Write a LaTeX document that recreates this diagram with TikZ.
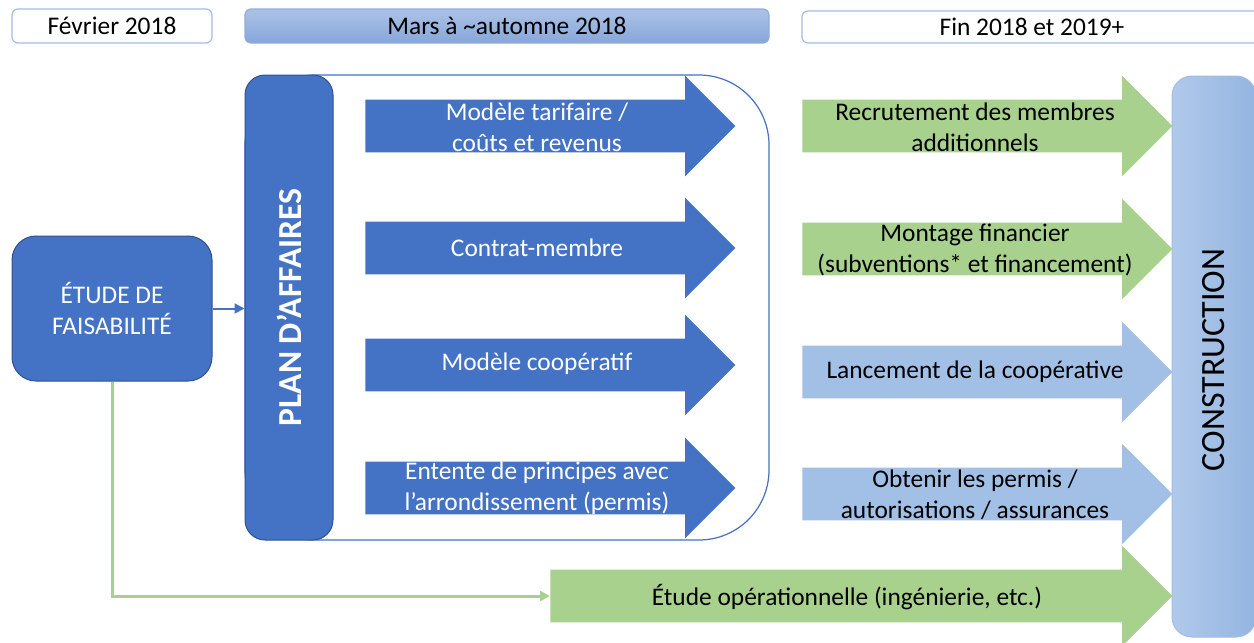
\documentclass[tikz,border=0pt]{standalone}
\usepackage{fontspec}
\setmainfont{Carlito}
\usepackage{tikz}
\usetikzlibrary{arrows.meta,shapes.arrows}
\definecolor{obleu}{HTML}{4472C4}
\definecolor{obord}{HTML}{2F528F}
\definecolor{overt}{HTML}{A9D18E}
\definecolor{ociel}{HTML}{A2C0E6}
\definecolor{ocadre}{HTML}{A3BCE3}
\newcommand{\arw}{-{Triangle[length=5pt,width=5pt]}}
\newcommand{\txt}{\fontsize{12.7}{15.3}\selectfont}

\begin{document}
\begin{tikzpicture}[x=.5pt,y=-.5pt,
  entete/.style={draw=ocadre,line width=.6pt,rounded corners=3pt,inner sep=0pt,font=\txt},
  fleche/.style={single arrow,single arrow head extend=12pt,single arrow head indent=0pt,
    minimum width=50pt,minimum height=185pt,inner xsep=0pt,inner ysep=13pt,anchor=tail},
  texte/.style={align=center,font=\txt,inner sep=0pt}]
\useasboundingbox (0,0) rectangle (1254,643);
%periodes
\node[entete,fill=white,minimum width=100pt,minimum height=17pt] (fev) at (112,26) {Février 2018};
\node[entete,draw=ocadre!80!obleu,top color=ocadre!90!white,bottom color=ocadre!70!obleu,
  minimum width=262pt,minimum height=17pt] (mars) at (507,26) {Mars à \textasciitilde automne 2018};
\node[entete,fill=white,minimum width=230pt,minimum height=16pt] (fin) at (1032,27) {Fin 2018 et 2019+};
%etude de faisabilite
\node[draw=obord,line width=.5pt,fill=obleu,rounded corners=12pt,minimum width=100pt,
  minimum height=72.5pt,text=white,texte] (etude) at (112,308.5) {ÉTUDE DE\\FAISABILITÉ};
%plan d'affaires
\draw[obleu,line width=.6pt,rounded corners=35pt] (245,75) rectangle (769,540);
\node[draw=obord,line width=.5pt,fill=obleu,rounded corners=10pt,minimum width=44pt,
  minimum height=232.5pt,inner sep=0pt] (plan) at (289,307.5) {};
\node[rotate=90,text=white,font=\bfseries\fontsize{16.8}{20}\selectfont] (plant) at (plan.center) {PLAN D’AFFAIRES};
\draw[obleu,line width=1pt,\arw] (etude.east) -- (etude.east -| plan.west);
\node[fleche,fill=obleu] (a1) at (365,126) {};
\node[fleche,fill=obleu] (a2) at (365,248) {};
\node[fleche,fill=obleu] (a3) at (365,365) {};
\node[fleche,fill=obleu] (a4) at (365,488) {};
\node[texte,text=white] (t1) at (537,127) {Modèle tarifaire /\\coûts et revenus};
\node[texte,text=white] (t2) at (537,248) {Contrat-membre};
\node[texte,text=white] (t3) at (537,364) {Modèle coopératif};
\node[texte,text=white] (t4) at (537,488) {Entente de principes avec\\l’arrondissement (permis)};
%construction
\node[draw=ocadre,line width=.5pt,left color=ociel!85!white,right color=ociel!85!obleu,
  rounded corners=10pt,minimum width=42pt,minimum height=280.5pt,inner sep=0pt] (constr) at (1214,356.5) {};
\node[rotate=90,font=\fontsize{17}{20}\selectfont] (constrt) at (1214,360) {CONSTRUCTION};
\node[fleche,fill=overt] (r1) at (802,126) {};
\node[fleche,fill=overt] (r2) at (802,249) {};
\node[fleche,fill=ociel] (r3) at (802,372) {};
\node[fleche,fill=ociel] (r4) at (802,494) {};
\node[fleche,fill=overt,minimum height=311pt] (r5) at (550,596) {};
\node[texte] (u1) at (975,127) {Recrutement des membres\\additionnels};
\node[texte] (u2) at (975,250) {Montage financier\\(subventions* et financement)};
\node[texte] (u3) at (975,372) {Lancement de la coopérative};
\node[texte] (u4) at (975,495) {Obtenir les permis /\\autorisations / assurances};
\node[texte] (u5) at (847,597) {Étude opérationnelle (ingénierie, etc.)};
\draw[overt,line width=1.5pt,\arw] (etude.south) |- (r5.tail);
\end{tikzpicture}
\end{document}
